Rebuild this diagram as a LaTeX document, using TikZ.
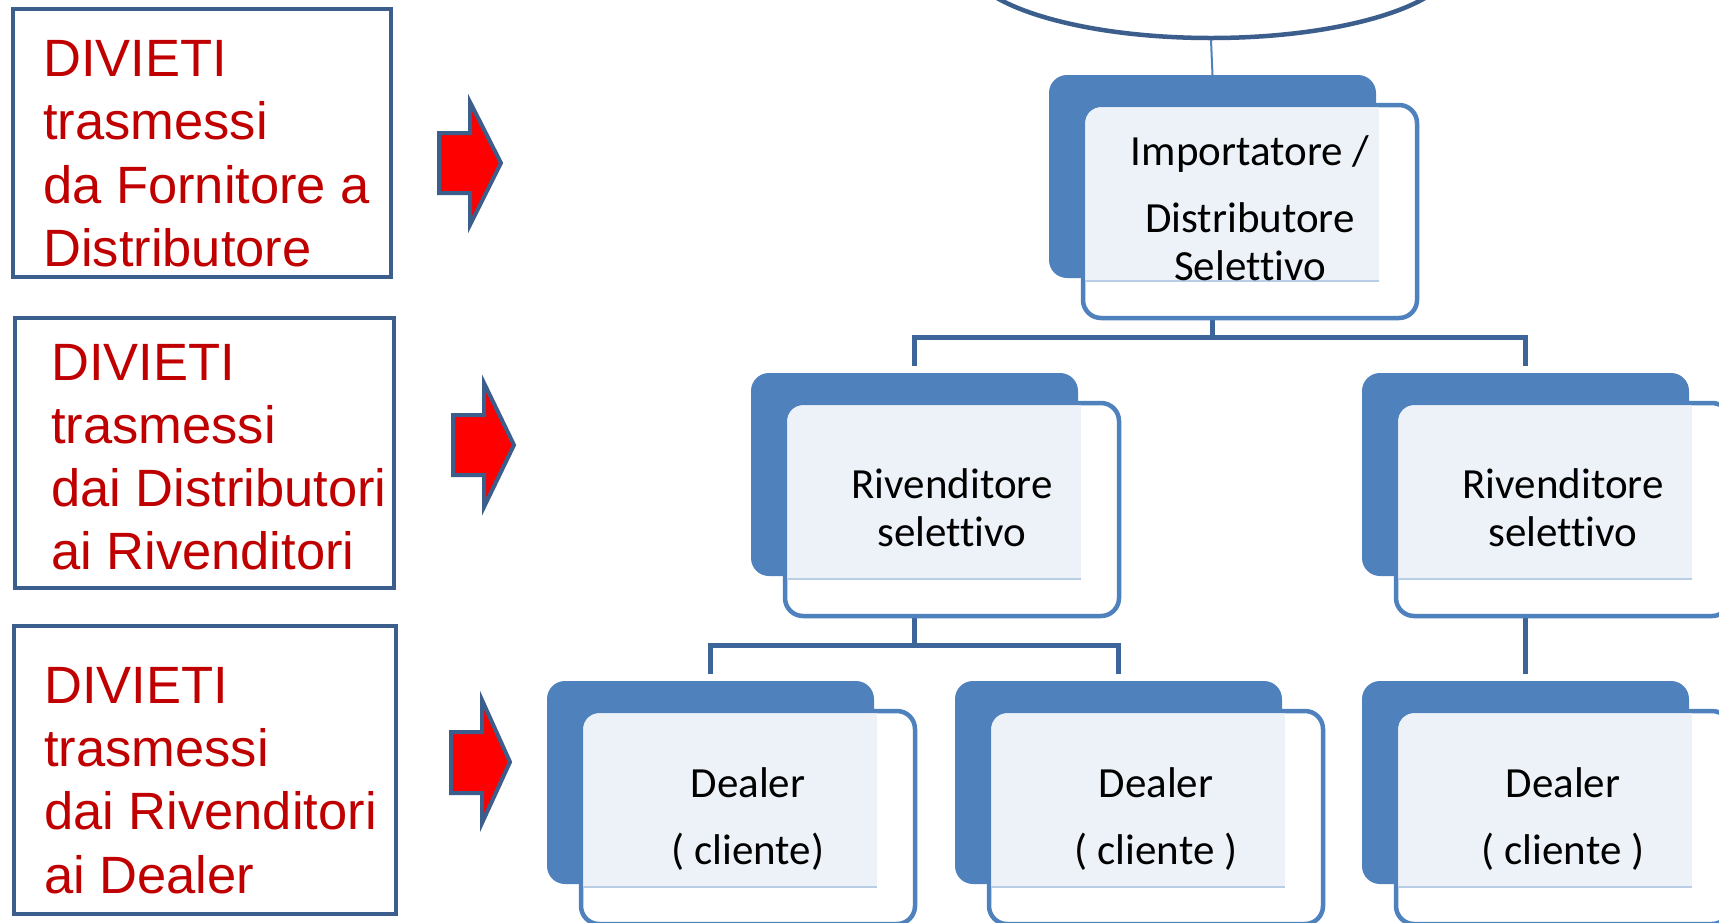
\documentclass[tikz,border=0pt]{standalone}
\usepackage{fontspec}
\setmainfont{Liberation Sans}
\newfontfamily\calibfont[Ligatures=NoCommon]{Carlito}
\usetikzlibrary{shapes.geometric,calc}
\definecolor{accent}{HTML}{4F81BD}
\definecolor{outl}{HTML}{3B5E8C}
\definecolor{connc}{HTML}{3D6599}
\definecolor{lightfill}{HTML}{EDF2F9}
\definecolor{fillline}{HTML}{B9CDE5}
\definecolor{redtext}{HTML}{C00000}
\pgfdeclarelayer{bg}
\pgfsetlayers{bg,main}
\tikzset{
  darkbox/.style={rectangle, rounded corners=18pt, fill=accent, minimum width=327pt, minimum height=203pt, inner sep=0pt, outer sep=0pt},
  lightbox/.style={rectangle, rounded corners=18pt, draw=accent, line width=4.5pt, fill=white, minimum width=334pt, minimum height=213pt, inner sep=0pt, outer sep=0pt},
  conn/.style={draw=connc, line width=5pt},
  topconn/.style={draw=accent, line width=2pt},
  orgtext/.style={font=\calibfont\fontsize{43}{50}\selectfont, anchor=base, inner sep=0pt, text=black},
  redtxt/.style={font=\fontsize{52.5}{63}\selectfont, anchor=base west, inner sep=0pt, text=redtext},
  leftbox/.style={draw=outl, line width=4.5pt, rectangle, inner sep=0pt, outer sep=0pt},
  redarrow/.style={draw=outl, line width=4pt, fill=red, line join=miter},
  topell/.style={ellipse, draw=outl, line width=4.5pt, minimum width=490pt, minimum height=156pt, inner sep=0pt},
}
\newcommand\orgunit[3]{%
  \node[darkbox, anchor=north west] (#1D) at (#2,#3) {};
  \node[lightbox, anchor=north west] (#1L) at ({#2+34},{#3+30}) {};
  \begin{scope}
    \clip[rounded corners=16pt] ($(#1L.north west)+(2.25,2.25)$) rectangle ($(#1L.south east)+(-2.25,-2.25)$);
    \fill[lightfill] (#1L.north west) rectangle ($(#1D.south east)+(3,3)$);
    \draw[fillline, line width=1.5pt] ($(#1L.west |- #1D.south)+(0,3)$) -- ($(#1D.south east)+(3,3)$);
  \end{scope}
}
\newcommand\redarrowshape[8]{%
  \draw[redarrow] (#1,#6) -- (#2,#6) -- (#2,#4) -- (#3,#8) -- (#2,#5) -- (#2,#7) -- (#1,#7) -- cycle;
}
\begin{document}
\begin{tikzpicture}[x=1pt,y=-1pt]
\useasboundingbox (0,0) rectangle (1719,922);
\clip (0,0) rectangle (1719,922);

% left boxes
\node[leftbox, minimum width=378pt, minimum height=268pt] (b1) at (202,143) {};
\node[leftbox, minimum width=379pt, minimum height=270pt] (b2) at (204.5,453) {};
\node[leftbox, minimum width=382pt, minimum height=288pt] (b3) at (205,770) {};

\node[redtxt] (b1l1) at (43,76) {DIVIETI};
\node[redtxt] (b1l2) at (43,139) {trasmessi};
\node[redtxt] (b1l3) at (43,203) {da Fornitore a};
\node[redtxt] (b1l4) at (43,266) {Distributore};

\node[redtxt] (b2l1) at (51,380) {DIVIETI};
\node[redtxt] (b2l2) at (51,443) {trasmessi};
\node[redtxt] (b2l3) at (51,506) {dai Distributori};
\node[redtxt] (b2l4) at (51,569) {ai Rivenditori};

\node[redtxt] (b3l1) at (44,703) {DIVIETI};
\node[redtxt] (b3l2) at (44,766) {trasmessi};
\node[redtxt] (b3l3) at (44,829) {dai Rivenditori};
\node[redtxt] (b3l4) at (44,893) {ai Dealer};

% red arrows
\redarrowshape{439}{470}{501}{102}{225}{133}{193}{163}
\redarrowshape{453}{484}{514}{383}{507}{415}{475}{445}
\redarrowshape{451}{482}{510}{700}{823}{732}{793}{762}

% top ellipse
\node[topell] (top) at (1211,-40) {};

% org units
\orgunit{imp}{1049}{75}
\orgunit{riva}{751}{373}
\orgunit{rivb}{1362}{373}
\orgunit{da}{547}{681}
\orgunit{db}{955}{681}
\orgunit{dc}{1362}{681}

% connectors
\coordinate (j1) at (1212.5,337.5);
\coordinate (j2) at (914.5,645);
\begin{pgfonlayer}{bg}
\fill[white] (0,0) rectangle (1719,922);
\draw[topconn] (top.south) -- (impD.north);
\draw[conn] (impD.center) -- (j1);
\draw[conn, shorten >=7pt] (j1) -| (rivaD.north);
\draw[conn, shorten >=7pt] (j1) -| (rivbD.north);
\draw[conn] (rivaD.center) -- (j2);
\draw[conn, shorten >=7pt] (j2) -| (daD.north);
\draw[conn, shorten >=7pt] (j2) -| (dbD.north);
\draw[conn, shorten >=7pt] (rivbD.center) -- (dcD.north);
\end{pgfonlayer}

% texts
\node[orgtext] (impT1) at (1250,165) {Importatore /};
\node[orgtext] (impT2) at (1250,232) {Distributore};
\node[orgtext] (impT3) at (1250,280) {Selettivo};

\node[orgtext] (rivaT1) at (952,498) {Rivenditore};
\node[orgtext] (rivaT2) at (952,546) {selettivo};
\node[orgtext] (rivbT1) at (1563,498) {Rivenditore};
\node[orgtext] (rivbT2) at (1563,546) {selettivo};

\node[orgtext] (daT1) at (748,797) {Dealer};
\node[orgtext] (daT2) at (748,864) {( cliente)};
\node[orgtext] (dbT1) at (1156,797) {Dealer};
\node[orgtext] (dbT2) at (1156,864) {( cliente )};
\node[orgtext] (dcT1) at (1563,797) {Dealer};
\node[orgtext] (dcT2) at (1563,864) {( cliente )};
\end{tikzpicture}
\end{document}
